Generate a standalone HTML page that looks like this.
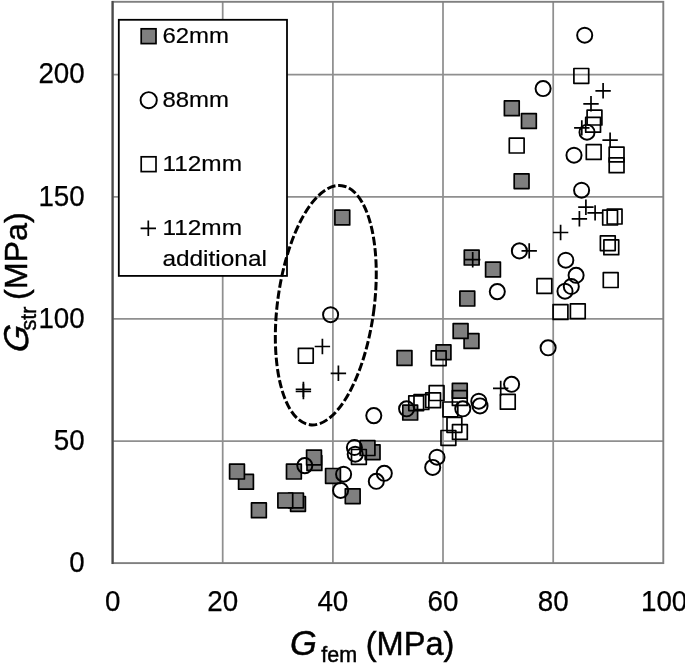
<!DOCTYPE html>
<html lang="en">
<head>
<meta charset="utf-8">
<title>G str vs G fem scatter</title>
<style>
html,body{margin:0;padding:0;background:#fff;}
body{width:685px;height:669px;overflow:hidden;}
svg{display:block;}
text{font-family:"Liberation Sans",sans-serif;fill:#000;}
.tick{font-size:28.8px;stroke:#000;stroke-width:0.25px;}
.leg{font-size:22.9px;stroke:#000;stroke-width:0.2px;}
.ttl text{stroke:#000;stroke-width:0.45px;}
.sub{font-size:21.5px;}
</style>
</head>
<body>
<svg width="685" height="669" viewBox="0 0 685 669">
<rect x="0" y="0" width="685" height="669" fill="#fff"/>

<g stroke="#8f8f8f" stroke-width="1.75" fill="none">
<path d="M222.7 1.8V563.1"/>
<path d="M332.9 1.8V563.1"/>
<path d="M443.0 1.8V563.1"/>
<path d="M553.2 1.8V563.1"/>
<path d="M112.6 441.0H663.3"/>
<path d="M112.6 318.9H663.3"/>
<path d="M112.6 196.8H663.3"/>
<path d="M112.6 74.7H663.3"/>
</g>
<rect x="112.6" y="1.8" width="550.7" height="561.3" fill="none" stroke="#808080" stroke-width="1.9"/>
<path d="M112.6 0.9V564.0" stroke="#4a4a4a" stroke-width="2.1" fill="none"/>
<rect x="118.8" y="19.8" width="168.2" height="256.1" fill="#fff" stroke="#000" stroke-width="1.8"/>
<ellipse cx="325.8" cy="305.2" rx="48.3" ry="120.6" transform="rotate(7.6 325.8 305.2)" fill="none" stroke="#000" stroke-width="3" stroke-dasharray="8.5 2.75" stroke-dashoffset="3.7"/>
<g stroke="#000" stroke-width="1.7" stroke-linejoin="round">
<rect x="521.5" y="113.6" width="14.8" height="14.8" fill="#7f7f7f"/>
<rect x="514.2" y="173.8" width="14.8" height="14.8" fill="#7f7f7f"/>
<rect x="504.4" y="100.9" width="14.8" height="14.8" fill="#7f7f7f"/>
<rect x="485.6" y="262.1" width="14.8" height="14.8" fill="#7f7f7f"/>
<rect x="464.3" y="250.2" width="14.8" height="14.8" fill="#7f7f7f"/>
<rect x="464.1" y="333.6" width="14.8" height="14.8" fill="#7f7f7f"/>
<rect x="459.9" y="291.2" width="14.8" height="14.8" fill="#7f7f7f"/>
<rect x="453.2" y="323.6" width="14.8" height="14.8" fill="#7f7f7f"/>
<rect x="452.4" y="383.4" width="14.8" height="14.8" fill="#7f7f7f"/>
<rect x="436.1" y="344.9" width="14.8" height="14.8" fill="#7f7f7f"/>
<rect x="402.8" y="405.2" width="14.8" height="14.8" fill="#7f7f7f"/>
<rect x="397.1" y="350.6" width="14.8" height="14.8" fill="#7f7f7f"/>
<rect x="365.2" y="444.8" width="14.8" height="14.8" fill="#7f7f7f"/>
<rect x="360.1" y="440.7" width="14.8" height="14.8" fill="#7f7f7f"/>
<rect x="345.3" y="488.8" width="14.8" height="14.8" fill="#7f7f7f"/>
<rect x="334.9" y="210.1" width="14.8" height="14.8" fill="#7f7f7f"/>
<rect x="325.6" y="468.5" width="14.8" height="14.8" fill="#7f7f7f"/>
<rect x="307.0" y="455.6" width="14.8" height="14.8" fill="#7f7f7f"/>
<rect x="306.6" y="450.1" width="14.8" height="14.8" fill="#7f7f7f"/>
<rect x="290.6" y="496.5" width="14.8" height="14.8" fill="#7f7f7f"/>
<rect x="288.6" y="493.0" width="14.8" height="14.8" fill="#7f7f7f"/>
<rect x="286.5" y="464.2" width="14.8" height="14.8" fill="#7f7f7f"/>
<rect x="277.9" y="493.0" width="14.8" height="14.8" fill="#7f7f7f"/>
<rect x="251.5" y="502.9" width="14.8" height="14.8" fill="#7f7f7f"/>
<rect x="238.6" y="474.4" width="14.8" height="14.8" fill="#7f7f7f"/>
<rect x="229.6" y="464.2" width="14.8" height="14.8" fill="#7f7f7f"/>
</g>
<g stroke="#000" stroke-width="1.95" fill="none">
<circle cx="304.8" cy="465.6" r="7.55"/>
<circle cx="343.6" cy="474.2" r="7.55"/>
<circle cx="340.6" cy="490.4" r="7.55"/>
<circle cx="354.4" cy="447.5" r="7.55"/>
<circle cx="355.2" cy="454.2" r="7.55"/>
<circle cx="373.8" cy="415.6" r="7.55"/>
<circle cx="384.3" cy="473.3" r="7.55"/>
<circle cx="376.3" cy="481.3" r="7.55"/>
<circle cx="432.7" cy="467.4" r="7.55"/>
<circle cx="437.0" cy="457.2" r="7.55"/>
<circle cx="406.6" cy="408.8" r="7.55"/>
<circle cx="462.8" cy="408.8" r="7.55"/>
<circle cx="478.8" cy="401.2" r="7.55"/>
<circle cx="480.0" cy="405.9" r="7.55"/>
<circle cx="511.6" cy="384.3" r="7.55"/>
<circle cx="497.3" cy="291.6" r="7.55"/>
<circle cx="519.4" cy="250.9" r="7.55"/>
<circle cx="548.1" cy="347.8" r="7.55"/>
<circle cx="565.8" cy="260.2" r="7.55"/>
<circle cx="576.1" cy="275.3" r="7.55"/>
<circle cx="571.3" cy="286.5" r="7.55"/>
<circle cx="565.0" cy="291.2" r="7.55"/>
<circle cx="330.6" cy="314.7" r="7.55"/>
<circle cx="543.1" cy="88.6" r="7.55"/>
<circle cx="584.7" cy="35.2" r="7.55"/>
<circle cx="587.0" cy="132.2" r="7.55"/>
<circle cx="574.0" cy="155.2" r="7.55"/>
<circle cx="581.6" cy="190.2" r="7.55"/>
</g>
<g stroke="#000" stroke-width="1.7" stroke-linejoin="round">
<rect x="351.5" y="449.5" width="14.8" height="14.8" fill="none"/>
<rect x="408.8" y="395.8" width="14.8" height="14.8" fill="none"/>
<rect x="414.0" y="394.7" width="14.8" height="14.8" fill="none"/>
<rect x="425.7" y="392.9" width="14.8" height="14.8" fill="none"/>
<rect x="429.2" y="385.7" width="14.8" height="14.8" fill="none"/>
<rect x="431.3" y="350.8" width="14.8" height="14.8" fill="none"/>
<rect x="452.4" y="390.6" width="14.8" height="14.8" fill="none"/>
<rect x="443.0" y="402.0" width="14.8" height="14.8" fill="none"/>
<rect x="447.0" y="417.5" width="14.8" height="14.8" fill="none"/>
<rect x="452.5" y="424.6" width="14.8" height="14.8" fill="none"/>
<rect x="441.0" y="430.5" width="14.8" height="14.8" fill="none"/>
<rect x="500.4" y="394.4" width="14.8" height="14.8" fill="none"/>
<rect x="537.0" y="278.6" width="14.8" height="14.8" fill="none"/>
<rect x="553.1" y="304.6" width="14.8" height="14.8" fill="none"/>
<rect x="570.4" y="303.8" width="14.8" height="14.8" fill="none"/>
<rect x="602.7" y="210.2" width="14.8" height="14.8" fill="none"/>
<rect x="607.2" y="209.2" width="14.8" height="14.8" fill="none"/>
<rect x="600.4" y="235.8" width="14.8" height="14.8" fill="none"/>
<rect x="603.9" y="239.9" width="14.8" height="14.8" fill="none"/>
<rect x="603.3" y="272.7" width="14.8" height="14.8" fill="none"/>
<rect x="298.4" y="348.3" width="14.8" height="14.8" fill="none"/>
<rect x="573.9" y="68.5" width="14.8" height="14.8" fill="none"/>
<rect x="587.1" y="110.2" width="14.8" height="14.8" fill="none"/>
<rect x="585.7" y="117.4" width="14.8" height="14.8" fill="none"/>
<rect x="586.3" y="144.6" width="14.8" height="14.8" fill="none"/>
<rect x="609.2" y="147.1" width="14.8" height="14.8" fill="none"/>
<rect x="609.2" y="157.9" width="14.8" height="14.8" fill="none"/>
<rect x="509.3" y="138.2" width="14.8" height="14.8" fill="none"/>
</g>
<g stroke="#000" stroke-width="1.7" fill="none">
<path d="M465.0 259.7H480.4M472.7 252.0V267.4"/>
<path d="M521.5 250.9H536.9M529.2 243.2V258.6"/>
<path d="M552.9 232.5H568.3M560.6 224.8V240.2"/>
<path d="M493.0 388.4H508.4M500.7 380.7V396.1"/>
<path d="M578.2 207.2H593.6M585.9 199.5V214.9"/>
<path d="M587.4 212.9H602.8M595.1 205.2V220.6"/>
<path d="M571.7 218.8H587.1M579.4 211.1V226.5"/>
<path d="M595.4 90.8H610.8M603.1 83.1V98.5"/>
<path d="M583.3 103.8H598.7M591.0 96.1V111.5"/>
<path d="M574.1 127.9H589.5M581.8 120.2V135.6"/>
<path d="M602.4 140.1H617.8M610.1 132.4V147.8"/>
<path d="M314.7 346.5H330.1M322.4 338.8V354.2"/>
<path d="M330.7 373.3H346.1M338.4 365.6V381.0"/>
<path d="M295.7 389.4H311.1M303.4 381.7V397.1"/>
<path d="M295.7 391.5H311.1M303.4 383.8V399.2"/>
</g>
<g stroke="#000" stroke-width="1.7"><rect x="141.2" y="28.8" width="14.8" height="14.8" fill="#7f7f7f"/><rect x="141.2" y="156.8" width="14.8" height="14.8" fill="none"/></g>
<g stroke="#000" stroke-width="1.95" fill="none"><circle cx="148.7" cy="100.2" r="8.1"/></g>
<g stroke="#000" stroke-width="1.7" fill="none"><path d="M140.6 228.3H156.0M148.3 220.6V236.0"/></g>
<text class="leg" x="162.4" y="43.4" textLength="66.5" lengthAdjust="spacingAndGlyphs">62mm</text>
<text class="leg" x="162.4" y="107.3" textLength="66.5" lengthAdjust="spacingAndGlyphs">88mm</text>
<text class="leg" x="162.4" y="171.2" textLength="79.6" lengthAdjust="spacingAndGlyphs">112mm</text>
<text class="leg" x="162.4" y="234.6" textLength="79.6" lengthAdjust="spacingAndGlyphs">112mm</text>
<text class="leg" x="162.4" y="265.6" textLength="104.5" lengthAdjust="spacingAndGlyphs">additional</text>
<text class="tick" x="69.2" y="571.9" textLength="15.4" lengthAdjust="spacingAndGlyphs">0</text>
<text class="tick" x="53.8" y="449.6" textLength="30.9" lengthAdjust="spacingAndGlyphs">50</text>
<text class="tick" x="38.4" y="328.3" textLength="46.3" lengthAdjust="spacingAndGlyphs">100</text>
<text class="tick" x="38.4" y="205.6" textLength="46.3" lengthAdjust="spacingAndGlyphs">150</text>
<text class="tick" x="38.4" y="83.1" textLength="46.3" lengthAdjust="spacingAndGlyphs">200</text>
<text class="tick" x="104.9" y="610.9" textLength="15.4" lengthAdjust="spacingAndGlyphs">0</text>
<text class="tick" x="207.3" y="610.9" textLength="30.9" lengthAdjust="spacingAndGlyphs">20</text>
<text class="tick" x="317.4" y="610.9" textLength="30.9" lengthAdjust="spacingAndGlyphs">40</text>
<text class="tick" x="427.6" y="610.9" textLength="30.9" lengthAdjust="spacingAndGlyphs">60</text>
<text class="tick" x="537.7" y="610.9" textLength="30.9" lengthAdjust="spacingAndGlyphs">80</text>
<text class="tick" x="641.0" y="610.9" textLength="46.3" lengthAdjust="spacingAndGlyphs">100</text>
<g class="ttl">
<text x="289.9" y="654.9" style="font-size:34.5px;font-style:italic">G</text>
<text x="321.3" y="661.6" class="sub">fem</text>
<text x="365.7" y="654.5" style="font-size:32.6px">(MPa)</text>
<text transform="translate(27.8 353.4) rotate(-90) skewX(-9)" style="font-size:34.5px;font-style:italic">G</text>
<text transform="translate(35.6 330.5) rotate(-90)" class="sub">str</text>
<text transform="translate(27.3 300) rotate(-90)" style="font-size:32.2px">(MPa)</text>
</g>
</svg>
</body>
</html>
